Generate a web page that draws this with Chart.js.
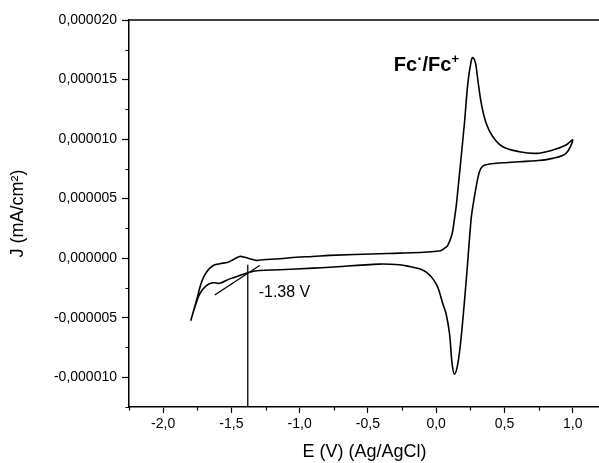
<!DOCTYPE html>
<html>
<head>
<meta charset="utf-8">
<script src="https://cdn.jsdelivr.net/npm/chart.js@4/dist/chart.umd.min.js"></script>
<style>
  html, body { margin: 0; padding: 0; background: #fff; overflow: hidden; }
  canvas { display: block; }
</style>
</head>
<body>
<canvas id="cv" width="620" height="463"></canvas>
<script>
// Cyclic voltammogram: anodic sweep from -1.8 V to +1.0 V, then the return sweep.
const potentialE = [
  -1.798, -1.756, -1.719, -1.683, -1.634, -1.585, -1.525, -1.488, -1.439, -1.402,
  -1.366, -1.317, -1.268, -1.146, -1.024, -0.905, -0.780, -0.415, -0.268, 0.024,
  0.073, 0.085, 0.110, 0.122, 0.134, 0.146, 0.170, 0.207, 0.232, 0.256,
  0.268, 0.288, 0.305, 0.330, 0.366, 0.415, 0.488, 0.610, 0.732, 0.854,
  0.951, 1.000,
  0.951, 0.854, 0.732, 0.610, 0.488, 0.390, 0.341, 0.317, 0.293, 0.268,
  0.256, 0.220, 0.183, 0.158, 0.134, 0.117, 0.098, 0.073, 0.049, 0.012,
  -0.024, -0.073, -0.122, -0.195, -0.268, -0.415, -0.780, -0.902, -1.146, -1.293,
  -1.366, -1.439, -1.512, -1.585, -1.634, -1.683, -1.732, -1.768, -1.798
];
const currentJ = [
  -5.25e-6, -3.57e-6, -2.02e-6, -1.18e-6, -0.62e-6, -0.47e-6, -0.34e-6, -0.13e-6, 0.14e-6, 0.08e-6,
  -0.05e-6, -0.19e-6, -0.13e-6, -0.05e-6, 0.08e-6, 0.14e-6, 0.23e-6, 0.37e-6, 0.42e-6, 0.60e-6,
  0.93e-6, 1.07e-6, 1.77e-6, 2.34e-6, 3.30e-6, 4.30e-6, 7.00e-6, 11.33e-6, 14.70e-6, 16.53e-6,
  16.85e-6, 16.39e-6, 14.98e-6, 13.02e-6, 11.33e-6, 10.20e-6, 9.36e-6, 8.94e-6, 8.80e-6, 9.08e-6,
  9.50e-6, 9.92e-6,
  8.80e-6, 8.38e-6, 8.18e-6, 8.10e-6, 8.01e-6, 7.90e-6, 7.73e-6, 7.25e-6, 5.99e-6, 4.30e-6,
  3.30e-6, -1.88e-6, -6.66e-6, -8.90e-6, -9.75e-6, -8.90e-6, -6.37e-6, -4.69e-6, -3.85e-6, -2.45e-6,
  -1.74e-6, -1.18e-6, -0.89e-6, -0.70e-6, -0.56e-6, -0.50e-6, -0.76e-6, -0.84e-6, -0.98e-6, -1.04e-6,
  -1.18e-6, -1.46e-6, -1.74e-6, -2.11e-6, -2.07e-6, -2.30e-6, -3.00e-6, -4.13e-6, -5.25e-6
];

// Onset construction: tangent to the reduction wave and the vertical drop line.
const tangentE = [-1.622, -1.293];
const tangentJ = [-3.09e-6, -0.62e-6];
const onsetE = [-1.38, -1.38];
const onsetJ = [-0.55e-6, -12.5e-6];
const onsetLabel = '-1.38 V';

// Axis ticks
const xMajor = [-2.0, -1.5, -1.0, -0.5, 0.0, 0.5, 1.0];
const xMinor = [-2.25, -1.75, -1.25, -0.75, -0.25, 0.25, 0.75];
const yMajor = [-10e-6, -5e-6, 0, 5e-6, 10e-6, 15e-6, 20e-6];
const yMinor = [-12.5e-6, -7.5e-6, -2.5e-6, 2.5e-6, 7.5e-6, 12.5e-6, 17.5e-6];

const FONT = '"Liberation Sans", Arial, sans-serif';

const zip = (xs, ys) => xs.map((x, i) => ({ x: x, y: ys[i] }));

const decorations = {
  id: 'decorations',
  afterDraw(chart) {
    const { ctx, chartArea: a, scales: { x, y } } = chart;
    ctx.save();
    ctx.strokeStyle = '#000';
    // top frame line
    ctx.lineWidth = 1.5;
    ctx.beginPath();
    ctx.moveTo(a.left, a.top);
    ctx.lineTo(a.right, a.top);
    ctx.stroke();
    // minor ticks
    ctx.lineWidth = 1.2;
    ctx.beginPath();
    xMinor.forEach(v => {
      if (v < x.min || v > x.max) return;
      const px = Math.round(x.getPixelForValue(v)) + 0.5;
      ctx.moveTo(px, a.bottom);
      ctx.lineTo(px, a.bottom + 3.5);
    });
    yMinor.forEach(v => {
      if (v < y.min || v > y.max) return;
      const py = Math.round(y.getPixelForValue(v)) + 0.5;
      ctx.moveTo(a.left, py);
      ctx.lineTo(a.left - 3.5, py);
    });
    ctx.stroke();

    // onset value label
    ctx.fillStyle = '#000';
    ctx.textBaseline = 'alphabetic';
    ctx.textAlign = 'left';
    ctx.font = '16px ' + FONT;
    ctx.fillText(onsetLabel, x.getPixelForValue(-1.30), y.getPixelForValue(-3.3e-6));

    // redox couple label
    let px = x.getPixelForValue(-0.31);
    const base = y.getPixelForValue(15.74e-6);
    ctx.font = 'bold 20px ' + FONT;
    ctx.fillText('Fc', px, base); px += ctx.measureText('Fc').width;
    ctx.font = 'bold 16px ' + FONT;
    ctx.fillText('\u00B7', px, base - 7); px += ctx.measureText('\u00B7').width;
    ctx.font = 'bold 20px ' + FONT;
    ctx.fillText('/Fc', px, base); px += ctx.measureText('/Fc').width;
    ctx.font = 'bold 13px ' + FONT;
    ctx.fillText('+', px, base - 8);
    ctx.restore();
  }
};

new Chart(document.getElementById('cv').getContext('2d'), {
  type: 'scatter',
  data: {
    datasets: [
      {
        data: zip(potentialE, currentJ),
        showLine: true,
        borderColor: '#000',
        borderWidth: 1.6,
        pointRadius: 0,
        tension: 0.35,
        fill: false
      },
      {
        data: zip(tangentE, tangentJ),
        showLine: true,
        borderColor: '#000',
        borderWidth: 1.3,
        pointRadius: 0
      },
      {
        data: zip(onsetE, onsetJ),
        showLine: true,
        borderColor: '#000',
        borderWidth: 1.3,
        pointRadius: 0
      }
    ]
  },
  options: {
    responsive: false,
    animation: false,
    layout: { padding: { left: 7, top: 20, right: 20, bottom: 0 } },
    plugins: { legend: { display: false }, tooltip: { enabled: false } },
    scales: {
      x: {
        type: 'linear',
        min: -2.25,
        max: 1.2,
        afterBuildTicks: s => { s.ticks = xMajor.map(v => ({ value: v })); },
        afterFit: s => { s.height = 56; },
        grid: { drawOnChartArea: false, tickLength: 6, tickColor: '#000', tickWidth: 1.2 },
        border: { color: '#000', width: 1.5 },
        ticks: {
          color: '#000',
          font: { family: FONT, size: 14 },
          padding: 3,
          maxRotation: 0,
          autoSkip: false,
          callback: v => v.toFixed(1).replace('.', ',')
        },
        title: { display: true, text: 'E (V) (Ag/AgCl)', color: '#000', font: { family: FONT, size: 18 }, padding: 0 }
      },
      y: {
        type: 'linear',
        min: -12.5e-6,
        max: 20e-6,
        afterBuildTicks: s => { s.ticks = yMajor.map(v => ({ value: v })); },
        afterFit: s => { s.width = 122; },
        grid: { drawOnChartArea: false, tickLength: 7, tickColor: '#000', tickWidth: 1.2 },
        border: { color: '#000', width: 1.5 },
        ticks: {
          color: '#000',
          font: { family: FONT, size: 14 },
          padding: 5,
          autoSkip: false,
          callback: v => {
            const s = (Math.abs(v) < 1e-12 ? 0 : v).toFixed(6);
            return s.replace('.', ',');
          }
        },
        title: { display: true, text: 'J (mA/cm\u00B2)', color: '#000', font: { family: FONT, size: 18 }, padding: 0 }
      }
    }
  },
  plugins: [decorations]
});
</script>
</body>
</html>
